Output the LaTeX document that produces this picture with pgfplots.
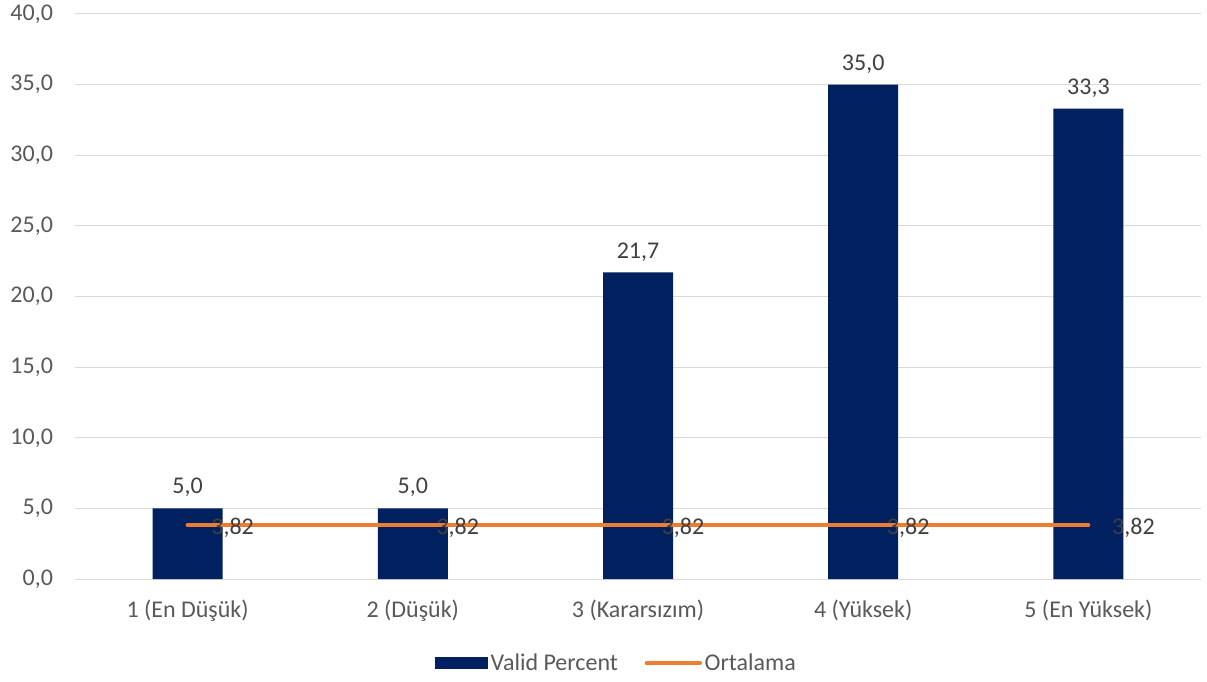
\documentclass[border=0pt]{standalone}
\usepackage{pgfplots}
\pgfplotsset{compat=1.18}
\usepackage{fontspec}
\setmainfont{Carlito}
\definecolor{navy}{HTML}{002060}
\definecolor{orng}{HTML}{ED7D31}
\definecolor{gridc}{HTML}{D9D9D9}
\definecolor{tickc}{HTML}{595959}
\definecolor{labc}{HTML}{404040}
\begin{document}
\begin{tikzpicture}
\useasboundingbox (0pt,0pt) rectangle (905.25pt,511.5pt);
\begin{axis}[
  at={(56.25pt,77.25pt)}, anchor=south west,
  scale only axis, width=844.5pt, height=423.75pt,
  xmin=-0.5, xmax=4.5, ymin=0, ymax=40,
  ytick={0,5,...,40},
  xtick={0,1,2,3,4},
  xticklabels={1 (En Düşük),2 (Düşük),3 (Kararsızım),4 (Yüksek),5 (En Yüksek)},
  ymajorgrids, grid style={gridc, line width=0.75pt},
  axis line style={draw=none},
  major tick length=0pt,
  tick label style={font=\fontsize{18}{21}\selectfont, text=tickc},
  yticklabel style={xshift=-13pt},
  xticklabel style={yshift=-12pt},
  /pgf/number format/.cd, assume math mode=true, use comma, fixed, fixed zerofill, precision=1,
  /pgfplots/.cd,
  legend style={at={(0.481,-0.149)}, anchor=center, draw=none, legend columns=2,
    font=\fontsize{18}{21}\selectfont, text=tickc,
    /tikz/every even column/.append style={column sep=18pt}},
  clip=false,
]
\addplot[ybar, bar width=52.5pt, fill=navy, draw=none,
  nodes near coords, every node near coord/.append style={font=\fontsize{18}{21}\selectfont, text=labc, yshift=5pt},
  legend image code/.code={\fill[navy] (0pt,-4.5pt) rectangle (40pt,4.5pt);}
  ] coordinates {(0,5.0) (1,5.0) (2,21.7) (3,35.0) (4,33.3)};
\addlegendentry{Valid Percent}
\addplot[orng, line width=3pt, line cap=round, mark=none,
  nodes near coords, point meta=explicit,
  nodes near coords={\pgfmathprintnumber[assume math mode=true,use comma,fixed,fixed zerofill,precision=2]{\pgfplotspointmeta}},
  every node near coord/.append style={font=\fontsize{18}{21}\selectfont, text=labc, anchor=west, xshift=13pt, yshift=-2pt},
  legend image code/.code={\draw[orng, line width=3pt, line cap=round] (0pt,0pt) -- (40pt,0pt);}
  ] coordinates {(0,3.82) [3.82] (1,3.82) [3.82] (2,3.82) [3.82] (3,3.82) [3.82] (4,3.82) [3.82]};
\addlegendentry{Ortalama}
\end{axis}
\end{tikzpicture}
\end{document}
